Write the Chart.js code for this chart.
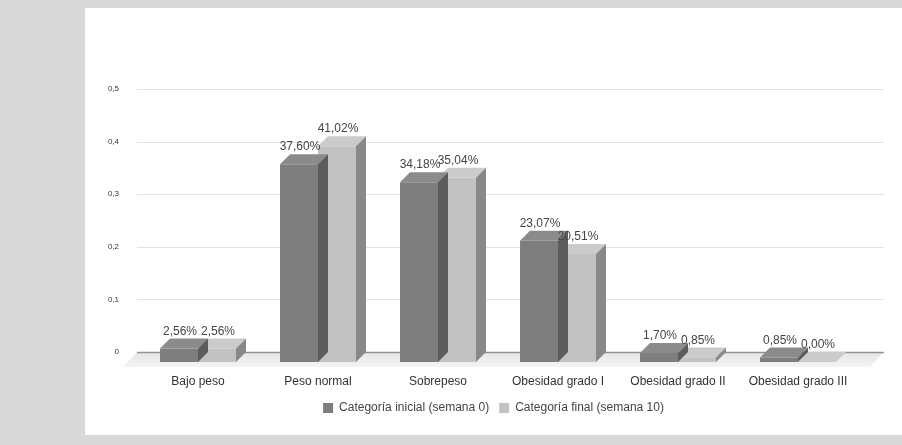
<!DOCTYPE html>
<html>
<head>
<meta charset="utf-8">
<script src="https://cdn.jsdelivr.net/npm/chart.js@4/dist/chart.umd.min.js"></script>
<style>
  body { margin: 0; background: #d9d9d9; }
  #panel { position: absolute; left: 85px; top: 8px; width: 817px; height: 427px; background: #fff; }
</style>
</head>
<body>
<div id="panel"><canvas id="myChart"></canvas></div>
<script>
// Datos del gráfico
const categorias = ['Bajo peso', 'Peso normal', 'Sobrepeso', 'Obesidad grado I', 'Obesidad grado II', 'Obesidad grado III'];
const inicial = [0.0256, 0.3760, 0.3418, 0.2307, 0.0170, 0.0085];
const final = [0.0256, 0.4102, 0.3504, 0.2051, 0.0085, 0.0000];
const yTickLabels = ['0', '0,1', '0,2', '0,3', '0,4', '0,5'];

const D = 10; // profundidad del efecto 3D
const caras = [
  { frente: '#7e7e7e', arriba: '#8b8b8b', lado: '#5c5c5c' },
  { frente: '#c2c2c2', arriba: '#cbcbcb', lado: '#888888' }
];

function fmt(v) {
  return (v * 100).toFixed(2).replace('.', ',') + '%';
}

function poly(ctx, pts, color) {
  ctx.beginPath();
  ctx.moveTo(pts[0][0], pts[0][1]);
  for (let i = 1; i < pts.length; i++) ctx.lineTo(pts[i][0], pts[i][1]);
  ctx.closePath();
  ctx.fillStyle = color;
  ctx.fill();
}

// piso, rejilla y caras 3D
const barras3d = {
  id: 'barras3d',
  beforeDatasetsDraw(chart) {
    const ctx = chart.ctx;
    const area = chart.chartArea;
    const y = chart.scales.y;
    const y0 = y.getPixelForValue(0);
    const left = area.left - 1, right = area.right + 26;
    // piso
    const g = ctx.createLinearGradient(0, y0, 0, y0 + 15);
    g.addColorStop(0, '#e6e6e6');
    g.addColorStop(1, '#f4f4f4');
    poly(ctx, [[left, y0], [right, y0], [right - 14, y0 + 15], [left - 14, y0 + 15]], g);
    // rejilla
    y.ticks.forEach(t => {
      const py = Math.round(y.getPixelForValue(t.value)) + 0.5;
      ctx.beginPath();
      ctx.moveTo(left, py);
      ctx.lineTo(right, py);
      ctx.lineWidth = t.value === 0 ? 1.5 : 1;
      ctx.strokeStyle = t.value === 0 ? '#939393' : '#e2e2e2';
      ctx.stroke();
    });
  },
  beforeDatasetDraw(chart) {
    chart.ctx.save();
    chart.ctx.translate(0, D);
  },
  afterDatasetDraw(chart, args) {
    const ctx = chart.ctx;
    ctx.restore();
    const c = caras[args.index];
    args.meta.data.forEach(el => {
      const L = el.x - el.width / 2, R = el.x + el.width / 2;
      const top = el.y, base = el.base;
      poly(ctx, [[L, top + D], [R, top + D], [R + D, top], [L + D, top]], c.arriba);
      poly(ctx, [[R, top + D], [R + D, top], [R + D, base], [R, base + D]], c.lado);
    });
  },
  afterDatasetsDraw(chart) {
    const ctx = chart.ctx;
    ctx.save();
    ctx.font = '12px "Liberation Sans", Arial, sans-serif';
    ctx.fillStyle = '#444';
    ctx.textAlign = 'center';
    ctx.textBaseline = 'alphabetic';
    chart.data.datasets.forEach((ds, i) => {
      chart.getDatasetMeta(i).data.forEach((el, j) => {
        ctx.fillText(fmt(ds.data[j]), el.x + 1, el.y - 4);
      });
    });
    ctx.restore();
  }
};

const ctx = document.getElementById('myChart').getContext('2d');
const myChart = new Chart(ctx, {
  type: 'bar',
  data: {
    labels: categorias,
    datasets: [{
      label: 'Categoría inicial (semana 0)',
      data: inicial,
      backgroundColor: caras[0].frente,
      barPercentage: 1,
      categoryPercentage: 0.633
    }, {
      label: 'Categoría final (semana 10)',
      data: final,
      backgroundColor: caras[1].frente,
      barPercentage: 1,
      categoryPercentage: 0.633
    }]
  },
  options: {
    responsive: true,
    maintainAspectRatio: false,
    animation: false,
    layout: { padding: { top: 81, right: 0, bottom: 11, left: 0 } },
    font: { family: '"Liberation Sans", Arial, sans-serif' },
    plugins: {
      tooltip: { enabled: false },
      legend: {
        position: 'bottom',
        labels: {
          boxWidth: 10,
          boxHeight: 10,
          padding: 10,
          color: '#444',
          font: { size: 12, family: '"Liberation Sans", Arial, sans-serif' }
        }
      }
    },
    scales: {
      x: {
        grid: { display: false, drawTicks: false },
        border: { display: false },
        ticks: {
          padding: 22,
          color: '#333',
          font: { size: 12, family: '"Liberation Sans", Arial, sans-serif' }
        },
        afterFit(scale) { scale.height = 40; }
      },
      y: {
        min: 0,
        max: 0.5,
        grid: { display: false, drawTicks: false },
        border: { display: false },
        ticks: {
          stepSize: 0.1,
          padding: 19,
          color: '#333',
          font: { size: 8, family: '"Liberation Sans", Arial, sans-serif' },
          callback: (v, i) => yTickLabels[i]
        },
        afterFit(scale) { scale.width = 53; }
      },
      // eje vacío a la derecha para dejar espacio al fondo 3D
      derecha: {
        position: 'right',
        grid: { display: false, drawTicks: false },
        border: { display: false },
        ticks: { display: false },
        afterFit(scale) { scale.width = 44; }
      }
    }
  },
  plugins: [barras3d]
});
</script>
</body>
</html>
